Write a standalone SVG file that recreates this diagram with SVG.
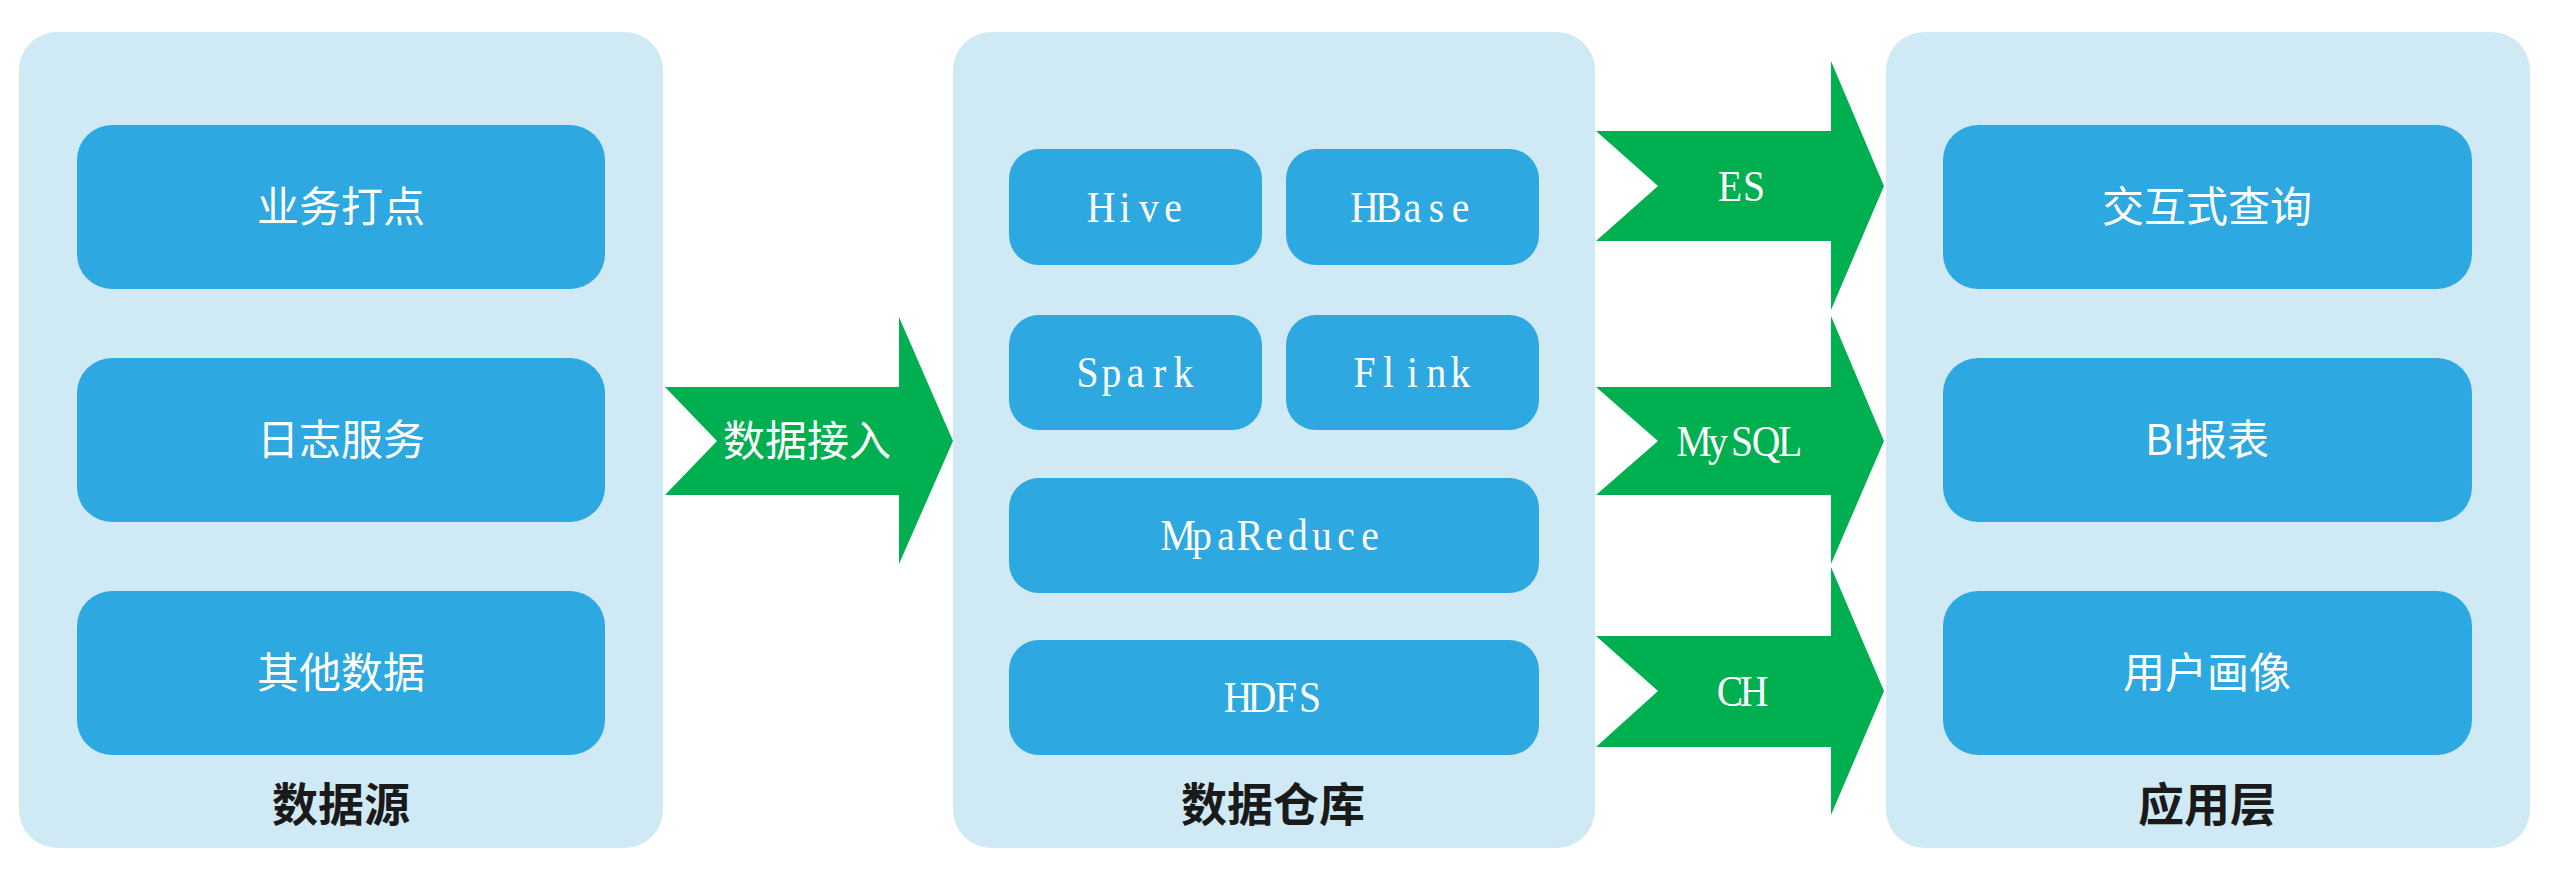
<svg xmlns="http://www.w3.org/2000/svg" width="2560" height="884" viewBox="0 0 2560 884">
<style>
.panel{fill:#d0eaf5}
.box{fill:#2ea8e0}
.arrow{fill:#00b050}
.cjk{font-family:"Noto Sans CJK SC","Noto Sans",sans-serif;font-size:42px;fill:#ffffff;text-anchor:middle}
.lat{font-family:"Liberation Serif","Noto Sans CJK SC",serif;font-size:45px;fill:#ffffff;text-anchor:middle}
.title{font-family:"Noto Sans CJK SC","Noto Sans",sans-serif;font-size:46px;font-weight:bold;fill:#1a1a1a;text-anchor:middle}
</style>
<rect width="2560" height="884" fill="#ffffff"/>
<g id="panel-source">
<rect class="panel" x="19" y="32" width="644" height="816" rx="38"/>
<text class="title" x="341" y="821">数据源</text>
</g>
<g id="node-yewu">
<rect class="box" x="77" y="125" width="528" height="164" rx="35"/>
<text class="cjk" x="341" y="222">业务打点</text>
</g>
<g id="node-rizhi">
<rect class="box" x="77" y="358" width="528" height="164" rx="35"/>
<text class="cjk" x="341" y="455">日志服务</text>
</g>
<g id="node-qita">
<rect class="box" x="77" y="591" width="528" height="164" rx="35"/>
<text class="cjk" x="341" y="688">其他数据</text>
</g>
<g id="panel-warehouse">
<rect class="panel" x="953" y="32" width="642" height="816" rx="38"/>
<text class="title" x="1273" y="821">数据仓库</text>
</g>
<g id="node-hive">
<rect class="box" x="1009" y="149" width="253" height="116" rx="30"/>
<text class="lat" transform="translate(1137 222) scale(0.88 1)" x="-40.91 -13.64 13.64 40.91" y="0">Hive</text>
</g>
<g id="node-hbase">
<rect class="box" x="1286" y="149" width="253" height="116" rx="30"/>
<text class="lat" transform="translate(1412.5 222) scale(0.88 1)" x="-54.55 -27.27 0 27.27 54.55" y="0">HBase</text>
</g>
<g id="node-spark">
<rect class="box" x="1009" y="315" width="253" height="115" rx="30"/>
<text class="lat" transform="translate(1135.5 387) scale(0.88 1)" x="-54.55 -27.27 0 27.27 54.55" y="0">Spark</text>
</g>
<g id="node-flink">
<rect class="box" x="1286" y="315" width="253" height="115" rx="30"/>
<text class="lat" transform="translate(1412.5 387) scale(0.88 1)" x="-54.55 -27.27 0 27.27 54.55" y="0">Flink</text>
</g>
<g id="node-mapreduce">
<rect class="box" x="1009" y="478" width="530" height="115" rx="30"/>
<text class="lat" transform="translate(1274 550) scale(0.88 1)" x="-109.09 -81.82 -54.55 -27.27 0 27.27 54.55 81.82 109.09" y="0">MpaReduce</text>
</g>
<g id="node-hdfs">
<rect class="box" x="1009" y="640" width="530" height="115" rx="30"/>
<text class="lat" transform="translate(1274 712) scale(0.88 1)" x="-40.91 -13.64 13.64 40.91" y="0">HDFS</text>
</g>
<g id="panel-app">
<rect class="panel" x="1886" y="32" width="644" height="816" rx="38"/>
<text class="title" x="2207" y="821">应用层</text>
</g>
<g id="node-query">
<rect class="box" x="1943" y="125" width="529" height="164" rx="35"/>
<text class="cjk" x="2207" y="222">交互式查询</text>
</g>
<g id="node-bi">
<rect class="box" x="1943" y="358" width="529" height="164" rx="35"/>
<text class="cjk" x="2207" y="455">BI报表</text>
</g>
<g id="node-profile">
<rect class="box" x="1943" y="591" width="529" height="164" rx="35"/>
<text class="cjk" x="2207" y="688">用户画像</text>
</g>
<g id="connectors">
<polygon class="arrow" points="665,387 899,387 899,317 953,441 899,564 899,495 665,495 717,441"/>
<text class="cjk" x="807" y="456">数据接入</text>
<polygon class="arrow" points="1596,131 1831,131 1831,61 1884,186 1831,310 1831,241 1596,241 1658,186"/>
<text class="lat" transform="translate(1742 201) scale(0.88 1)" x="-13.64 13.64" y="0">ES</text>
<polygon class="arrow" points="1596,387 1831,387 1831,316 1884,441 1831,564 1831,495 1596,495 1658,441"/>
<text class="lat" transform="translate(1742 456) scale(0.88 1)" x="-54.55 -27.27 0 27.27 54.55" y="0">MySQL</text>
<polygon class="arrow" points="1596,636 1831,636 1831,567 1884,691 1831,815 1831,747 1596,747 1658,691"/>
<text class="lat" transform="translate(1742 706) scale(0.88 1)" x="-13.64 13.64" y="0">CH</text>
</g>
</svg>
